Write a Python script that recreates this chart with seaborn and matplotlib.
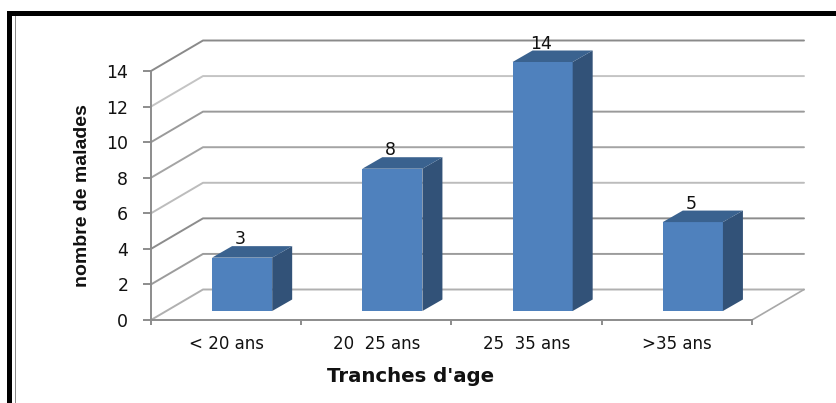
import matplotlib
matplotlib.use("Agg")
import matplotlib.pyplot as plt
from matplotlib.patches import Polygon, Rectangle
import seaborn as sns

categories = ["< 20 ans", "20  25 ans", "25  35 ans", ">35 ans"]
values = [3, 8, 14, 5]
y_ticks = [0, 2, 4, 6, 8, 10, 12, 14]

W, H = 837, 403
LEFT, RIGHT, BOTTOM, TOP = 151, 752, 320, 71  # plot area, pixels from top-left

# wall lines are not all the same grey in the scan
GRID_COLORS = ["#b0b0b0", "#9c9c9c", "#8c8c8c", "#bcbcbc",
               "#a4a4a4", "#9a9a9a", "#c4c4c4", "#8a8a8a"]

sns.set_style("white")
plt.rcParams["font.family"] = ["DejaVu Sans"]

fig = plt.figure(figsize=(W / 100, H / 100), dpi=100)
ax = fig.add_axes([LEFT / W, 1 - BOTTOM / H, (RIGHT - LEFT) / W, (BOTTOM - TOP) / H])

sns.barplot(x=categories, y=values, color="#4F81BD", saturation=1, width=0.4,
            edgecolor="none", linewidth=0, ax=ax, zorder=3)
ax.set_xlim(-0.5, 3.5)
ax.set_ylim(0, 14)

# pixel sizes -> data units, for the fake 3D
px_x = 4 / (RIGHT - LEFT)
px_y = 14 / (BOTTOM - TOP)

# back wall and floor
wall_dx, wall_dy = 52 * px_x, 30.5 * px_y
for v, c in zip(y_ticks, GRID_COLORS):
    ax.plot([-0.5, -0.5 + wall_dx, 3.5 + wall_dx], [v, v + wall_dy, v + wall_dy],
            color=c, lw=1.4, clip_on=False, zorder=1)
ax.plot([3.5, 3.5 + wall_dx], [0, wall_dy], color="#a8a8a8", lw=1.2,
        clip_on=False, zorder=1)

# bars: move front faces off the axis, then add side and top
base_dx, base_dy = 16 * px_x, 9 * px_y
side_dx, side_dy = 20 * px_x, 11.5 * px_y
for bar, val in zip(ax.patches, values):
    bar.set_x(bar.get_x() + base_dx)
    bar.set_y(base_dy)
    bar.set_clip_on(False)
    x0, x1 = bar.get_x(), bar.get_x() + bar.get_width()
    y0, y1 = base_dy, base_dy + val
    ax.add_patch(Polygon([(x1, y0), (x1 + side_dx, y0 + side_dy),
                          (x1 + side_dx, y1 + side_dy), (x1, y1)],
                         fc="#325278", ec="none", clip_on=False, zorder=3))
    ax.add_patch(Polygon([(x0, y1), (x0 + side_dx, y1 + side_dy),
                          (x1 + side_dx, y1 + side_dy), (x1, y1)],
                         fc="#3A628F", ec="none", clip_on=False, zorder=3))
    ax.text((x0 + x1) / 2 - 2 * px_x, y1 + 18.5 * px_y, str(val), ha="center",
            va="center", fontsize=12.5, color="#111111", zorder=4)

# axes
sns.despine(ax=ax, top=True, right=True)
for side in ["left", "bottom"]:
    ax.spines[side].set_color("#8c8c8c")
    ax.spines[side].set_linewidth(1.4)
    ax.spines[side].set_zorder(2)

ax.set_yticks(y_ticks)
ax.tick_params(axis="y", left=True, length=5.8, width=1.4, color="#8c8c8c",
               pad=10.5, labelsize=12.5, labelcolor="#111111")
ax.tick_params(axis="x", bottom=False, length=0, pad=11, labelsize=12,
               labelcolor="#111111")
ax.set_xticks([-0.5, 0.5, 1.5, 2.5, 3.5], minor=True)
ax.tick_params(axis="x", which="minor", bottom=True, length=3.6, width=1.4,
               color="#8c8c8c")

ax.set_ylabel("nombre de malades", family="Liberation Sans", fontweight="bold",
              fontsize=14, va="center", color="#111111")
ax.yaxis.set_label_coords((83 - LEFT) / (RIGHT - LEFT), (BOTTOM - 196) / (BOTTOM - TOP))
ax.set_xlabel("Tranches d'age", fontweight="bold", fontsize=14.2, va="center",
              color="#111111")
ax.xaxis.set_label_coords((411 - LEFT) / (RIGHT - LEFT), (BOTTOM - 376) / (BOTTOM - TOP))


def frame(x0, y0, x1, y1, color):
    fig.add_artist(Rectangle((x0 / W, 1 - y1 / H), (x1 - x0) / W, (y1 - y0) / H,
                             transform=fig.transFigure, fc=color, ec="none"))


# page border
frame(7, 11, W, 16, "black")
frame(7, 11, 12, H, "black")
frame(15, 16, 16.5, H, "#8c8c8c")

fig.savefig("out.png", dpi=100)
